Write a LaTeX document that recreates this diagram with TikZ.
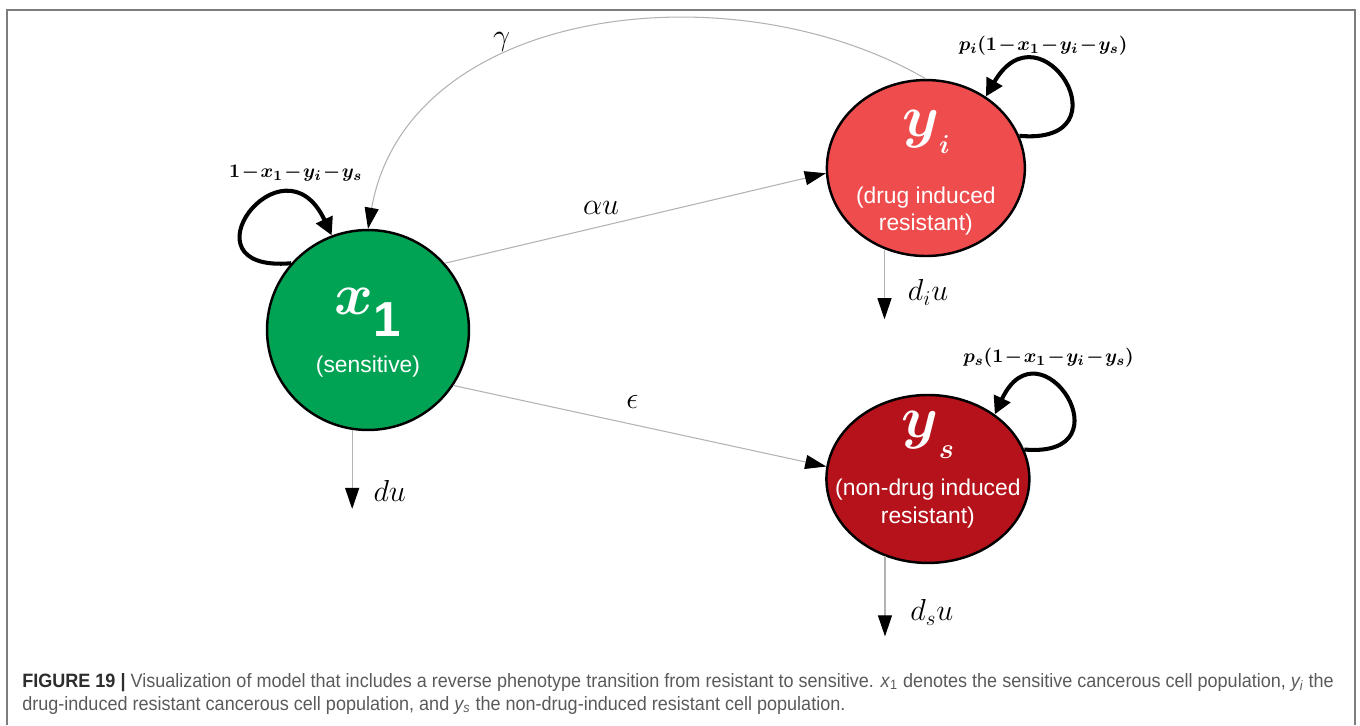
\documentclass[tikz,border=0pt]{standalone}
\usepackage{amsmath,bm}
\usepackage{fontspec}
\setsansfont{Liberation Sans}
\usetikzlibrary{automata, positioning, arrows, arrows.meta, shapes.geometric}

\definecolor{sensgreen}{RGB}{0,163,84}
\definecolor{indred}{RGB}{239,76,78}
\definecolor{nonred}{RGB}{181,18,27}
\definecolor{framegray}{RGB}{125,125,125}
\definecolor{capdark}{RGB}{45,45,45}
\definecolor{capgray}{RGB}{90,90,90}

% big cell symbol: bold letter with a lowered index
\newcommand{\cellsym}[4]{\scalebox{1.35}{\fontsize{24.88}{26}\selectfont$\bm{#1}$\raisebox{#3}{\fontsize{#4}{#4}\selectfont#2}}}
\newcommand{\celltxt}[1]{{\sffamily\fontsize{13}{15}\selectfont #1}}
\newcommand{\cellbody}[2]{\raisebox{#1}[0pt][0pt]{\makebox[0pt]{\begin{tabular}{@{}c@{}}#2\end{tabular}}}}
\newcommand{\growth}{1-x_1-y_i-y_s}
\newcommand{\growlabel}[1]{$\medmuskip=1.5mu\relax\bm{#1}$}

\tikzset{
  cell/.style={state, ellipse, draw=black, line width=1.4pt, text=white, inner sep=0pt},
  trans/.style={draw=black!30, line width=0.6pt, -{Triangle[length=12pt, width=8pt, color=black]}},
  growloop/.style={draw=black, line width=2.3pt, -{Triangle[length=10pt, width=10pt]}},
  lbl/.style={font=\fontsize{17.28}{20}\selectfont},
  growlbl/.style={font=\fontsize{10.95}{13}\selectfont},
  capline/.style={anchor=base west, inner sep=0pt, text=capgray, font=\sffamily\fontsize{11}{13}\selectfont}
}

\begin{document}
\begin{tikzpicture}[x=0.02cm, y=0.02cm]
\useasboundingbox (0,0) rectangle (1360,725);
\draw[framegray, line width=1pt] (7,0) -- (7,715) -- (1355,715) -- (1355,0);

% the three populations
\node[cell, fill=sensgreen, minimum width=4.04cm, minimum height=4cm] (x1) at (368,395)
  {\cellbody{-4.5pt}{\cellsym{x}{\sffamily\bfseries 1}{-9.3pt}{20.74}\\[20pt]\celltxt{(sensitive)}}};
\node[cell, fill=indred, minimum width=3.96cm, minimum height=3.52cm, on grid, above right=3.24cm and 11.16cm of x1] (yi)
  {\cellbody{-5.6pt}{\cellsym{y}{$\bm{i}$}{-7.1pt}{10.95}\\[25pt]\celltxt{(drug induced}\\[2pt]\celltxt{resistant)}}};
\node[cell, fill=nonred, minimum width=4.06cm, minimum height=3.36cm, on grid, below=6.22cm of yi, xshift=0.04cm] (ys)
  {\cellbody{2.5pt}{\cellsym{y}{$\bm{s}$}{-9.2pt}{12}\\[20pt]\celltxt{(non-drug induced}\\[3pt]\celltxt{resistant)}}};

% death terms
\coordinate[below=1.58cm of x1.261] (gonex1);
\coordinate[below=1.4cm of yi.243] (goneyi);
\coordinate[below=1.6cm of ys.241] (goneys);

\draw
    (x1.41) edge[trans] node[lbl, above, pos=0.41, yshift=0.1cm] {$\alpha u$} (yi.183)
    (x1.-33) edge[trans] node[lbl, above, pos=0.48, yshift=0.2cm] {$\epsilon$} (ys.173)
    (yi.north) edge[trans, out=150, in=80] node[lbl, above, pos=0.64] {$\gamma$} (x1.north)
    (x1.261) edge[trans] node[lbl, right, pos=0.77, xshift=0.3cm] {$du$} (gonex1)
    (yi.243) edge[trans] node[lbl, right, pos=0.62, xshift=0.34cm] {$d_iu$} (goneyi)
    (ys.241) edge[trans] node[lbl, right, pos=0.7, xshift=0.38cm] {$d_su$} (goneys);

% logistic growth loops
\draw
    (x1.139) edge[growloop, out=185, in=115, looseness=6] node[growlbl, above, pos=0.75, xshift=0.14cm, yshift=0.16cm] {\growlabel{\growth}} (x1.111)
    (yi.19) edge[growloop, out=-5, in=60, looseness=5.5] node[growlbl, above, pos=0.75, xshift=0.26cm] {\growlabel{p_i(\growth)}} (yi.50)
    (ys.17) edge[growloop, out=-5, in=65, looseness=6] node[growlbl, above, pos=0.75, xshift=0.3cm, yshift=0.1cm] {\growlabel{p_s(\growth)}} (ys.44);

% caption
\node[capline] (cap1) at (22,38) {\scalebox{0.933}[1]{\textcolor{capdark}{\textbf{FIGURE 19 |}} Visualization of model that includes a reverse phenotype transition from resistant to sensitive. \textit{x}\textsubscript{1} denotes the sensitive cancerous cell population, \textit{y\textsubscript{i}} the}};
\node[capline] (cap2) at (22,15) {\scalebox{0.933}[1]{drug-induced resistant cancerous cell population, and \textit{y\textsubscript{s}} the non-drug-induced resistant cell population.}};
\end{tikzpicture}
\end{document}
